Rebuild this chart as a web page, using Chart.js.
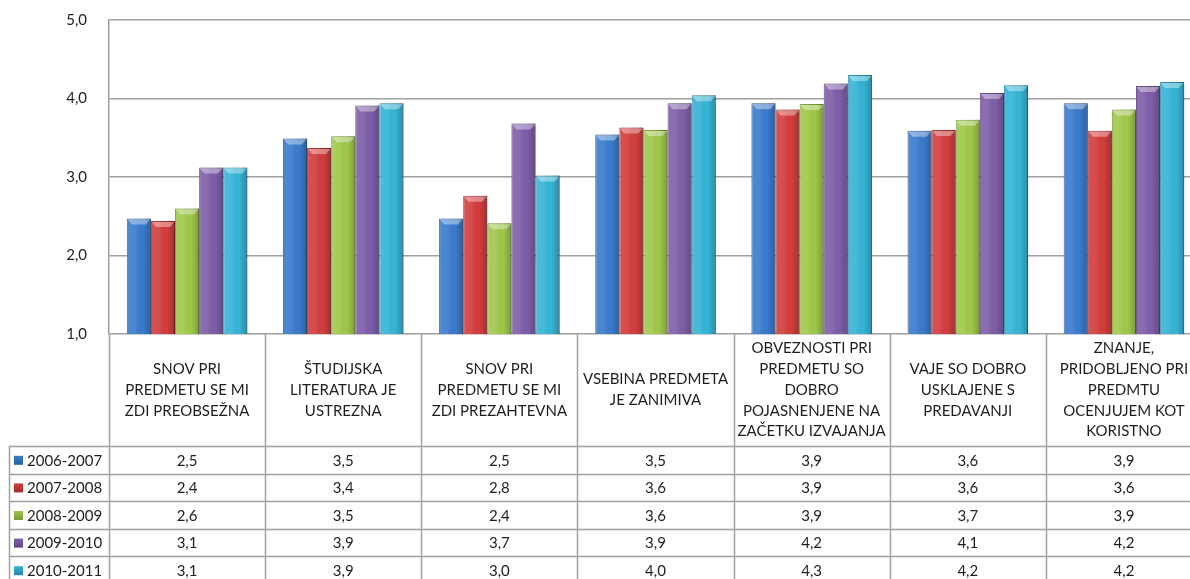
<!DOCTYPE html>
<html>
<head>
<meta charset="utf-8">
<script src="https://cdn.jsdelivr.net/npm/chart.js@4.4.1/dist/chart.umd.min.js"></script>
<style>
  html, body { margin: 0; padding: 0; background: #fff; overflow: hidden; }
  #wrap { position: relative; width: 1202px; height: 579px; }
</style>
</head>
<body>
<div id="wrap"><canvas id="chart"></canvas></div>
<script>
const categories = [
  ['SNOV PRI', 'PREDMETU SE MI', 'ZDI PREOBSEŽNA'],
  ['ŠTUDIJSKA', 'LITERATURA JE', 'USTREZNA'],
  ['SNOV PRI', 'PREDMETU SE MI', 'ZDI PREZAHTEVNA'],
  ['VSEBINA PREDMETA', 'JE ZANIMIVA'],
  ['OBVEZNOSTI PRI', 'PREDMETU SO', 'DOBRO', 'POJASNENJENE NA', 'ZAČETKU IZVAJANJA'],
  ['VAJE SO DOBRO', 'USKLAJENE S', 'PREDAVANJI'],
  ['ZNANJE,', 'PRIDOBLJENO PRI', 'PREDMTU', 'OCENJUJEM KOT', 'KORISTNO']
];
const seriesNames = ['2006-2007', '2007-2008', '2008-2009', '2009-2010', '2010-2011'];
const y0607 = [2.47, 3.49, 2.47, 3.54, 3.94, 3.59, 3.94];
const y0708 = [2.44, 3.37, 2.76, 3.63, 3.86, 3.60, 3.59];
const y0809 = [2.60, 3.52, 2.41, 3.60, 3.93, 3.73, 3.86];
const y0910 = [3.12, 3.91, 3.68, 3.94, 4.19, 4.07, 4.16];
const y1011 = [3.12, 3.94, 3.02, 4.04, 4.30, 4.17, 4.21];
const yTicks = [1, 2, 3, 4, 5];

const colors = ['#3b7bcc', '#d33d3d', '#a0c84a', '#7f5ea9', '#36b4d6'];
const borders = ['#2c5f9e', '#a32c2c', '#7a9a36', '#5f4582', '#2688a4'];
const gridColor = '#a0a0a0';
const textColor = '#1e1e1e';
const font = 'Lato, "Open Sans", sans-serif';

const fmt = v => v.toFixed(1).replace('.', ',');
const seriesValues = [y0607, y0708, y0809, y0910, y1011];

const headerH = 112;
const rowH = 27.6;
const tableLeft = 9;

// soft drop shadow + bevel on the bars
const barShade = {
  id: 'barShade',
  beforeDatasetsDraw(chart) {
    const ctx = chart.ctx;
    ctx.save();
    ctx.shadowColor = 'rgba(0,0,0,0.28)';
    ctx.shadowBlur = 3;
    ctx.shadowOffsetX = 2;
    ctx.shadowOffsetY = 1;
  },
  afterDatasetsDraw(chart) {
    const ctx = chart.ctx;
    ctx.restore();
    const area = chart.chartArea;
    chart.data.datasets.forEach((ds, di) => {
      chart.getDatasetMeta(di).data.forEach(bar => {
        const l = bar.x - bar.width / 2, r = bar.x + bar.width / 2;
        const t = bar.y, b = Math.min(bar.base, area.bottom);
        ctx.save();
        const g = ctx.createLinearGradient(l, 0, r, 0);
        g.addColorStop(0, 'rgba(255,255,255,0.10)');
        g.addColorStop(0.35, 'rgba(255,255,255,0.08)');
        g.addColorStop(0.65, 'rgba(0,0,0,0.0)');
        g.addColorStop(1, 'rgba(0,0,0,0.22)');
        ctx.fillStyle = g;
        ctx.fillRect(l, t, r - l, b - t);
        ctx.beginPath();
        ctx.moveTo(l + 1, t + 1);
        ctx.lineTo(r - 1, t + 1);
        ctx.lineTo(r - 5, t + 6);
        ctx.lineTo(l + 5, t + 6);
        ctx.closePath();
        ctx.fillStyle = 'rgba(255,255,255,0.38)';
        ctx.fill();
        ctx.restore();
      });
    });
  }
};

const dataTable = {
  id: 'dataTable',
  afterDraw(chart) {
    const ctx = chart.ctx;
    const xs = chart.scales.x;
    const area = chart.chartArea;
    const bottom = chart.height;
    const colW = (area.right - area.left) / categories.length;
    const top = area.bottom;
    const hBottom = top + headerH;
    ctx.save();
    ctx.strokeStyle = gridColor;
    ctx.lineWidth = 1.5;
    // column dividers
    for (let i = 0; i <= categories.length; i++) {
      const x = Math.round(area.left + i * colW) + 0.5;
      ctx.beginPath();
      ctx.moveTo(x, top);
      ctx.lineTo(x, bottom);
      ctx.stroke();
    }
    // legend column edge
    ctx.beginPath();
    ctx.moveTo(tableLeft + 0.5, hBottom);
    ctx.lineTo(tableLeft + 0.5, bottom);
    ctx.stroke();
    // row lines
    for (let r = 0; r <= seriesNames.length; r++) {
      const y = Math.round(hBottom + r * rowH) + 0.5;
      ctx.beginPath();
      ctx.moveTo(tableLeft, y);
      ctx.lineTo(area.right, y);
      ctx.stroke();
    }
    // header labels
    ctx.fillStyle = textColor;
    ctx.font = '15px ' + font;
    ctx.textAlign = 'center';
    ctx.textBaseline = 'middle';
    const lineH = 20.8;
    categories.forEach((lines, i) => {
      const cx = xs.getPixelForValue(i);
      const cy = top + headerH / 2;
      lines.forEach((ln, k) => {
        ctx.fillText(ln, cx, cy + (k - (lines.length - 1) / 2) * lineH);
      });
    });
    // data rows
    seriesNames.forEach((name, r) => {
      const cy = hBottom + r * rowH + rowH / 2 + 1;
      const kx = 14, ky = cy - 5, ks = 9;
      const g = ctx.createLinearGradient(0, ky, 0, ky + ks);
      g.addColorStop(0, colors[r]);
      g.addColorStop(1, borders[r]);
      ctx.fillStyle = g;
      ctx.fillRect(kx, ky, ks, ks);
      ctx.fillStyle = textColor;
      ctx.textAlign = 'left';
      ctx.fillText(name, 27, cy);
      ctx.textAlign = 'center';
      seriesValues[r].forEach((v, i) => {
        ctx.fillText(fmt(v), xs.getPixelForValue(i), cy);
      });
    });
    ctx.restore();
  }
};

new Chart(document.getElementById('chart'), {
  type: 'bar',
  data: {
    labels: categories,
    datasets: seriesNames.map((name, i) => ({
      label: name,
      data: seriesValues[i],
      backgroundColor: colors[i],
      borderColor: borders[i],
      borderWidth: 1,
      borderSkipped: 'bottom',
      categoryPercentage: 0.772,
      barPercentage: 1.0
    }))
  },
  options: {
    responsive: true,
    maintainAspectRatio: false,
    animation: false,
    devicePixelRatio: 1,
    layout: { padding: { left: 0, right: 0, top: 20, bottom: 245 } },
    plugins: {
      legend: { display: false },
      tooltip: { enabled: false }
    },
    scales: {
      x: {
        ticks: { display: false },
        grid: { display: false, drawTicks: false },
        border: { display: false },
        afterFit: s => { s.height = 0; }
      },
      y: {
        min: 1,
        max: 5,
        afterBuildTicks: s => { s.ticks = yTicks.map(v => ({ value: v })); },
        ticks: {
          padding: 22,
          color: textColor,
          font: { family: font, size: 15 },
          callback: v => fmt(v)
        },
        grid: { color: gridColor, lineWidth: 1.5, drawTicks: false },
        border: { color: gridColor, width: 1.5 },
        afterFit: s => { s.width = 109; s.paddingTop = 0; s.paddingBottom = 0; }
      }
    }
  },
  plugins: [barShade, dataTable]
});
</script>
</body>
</html>
